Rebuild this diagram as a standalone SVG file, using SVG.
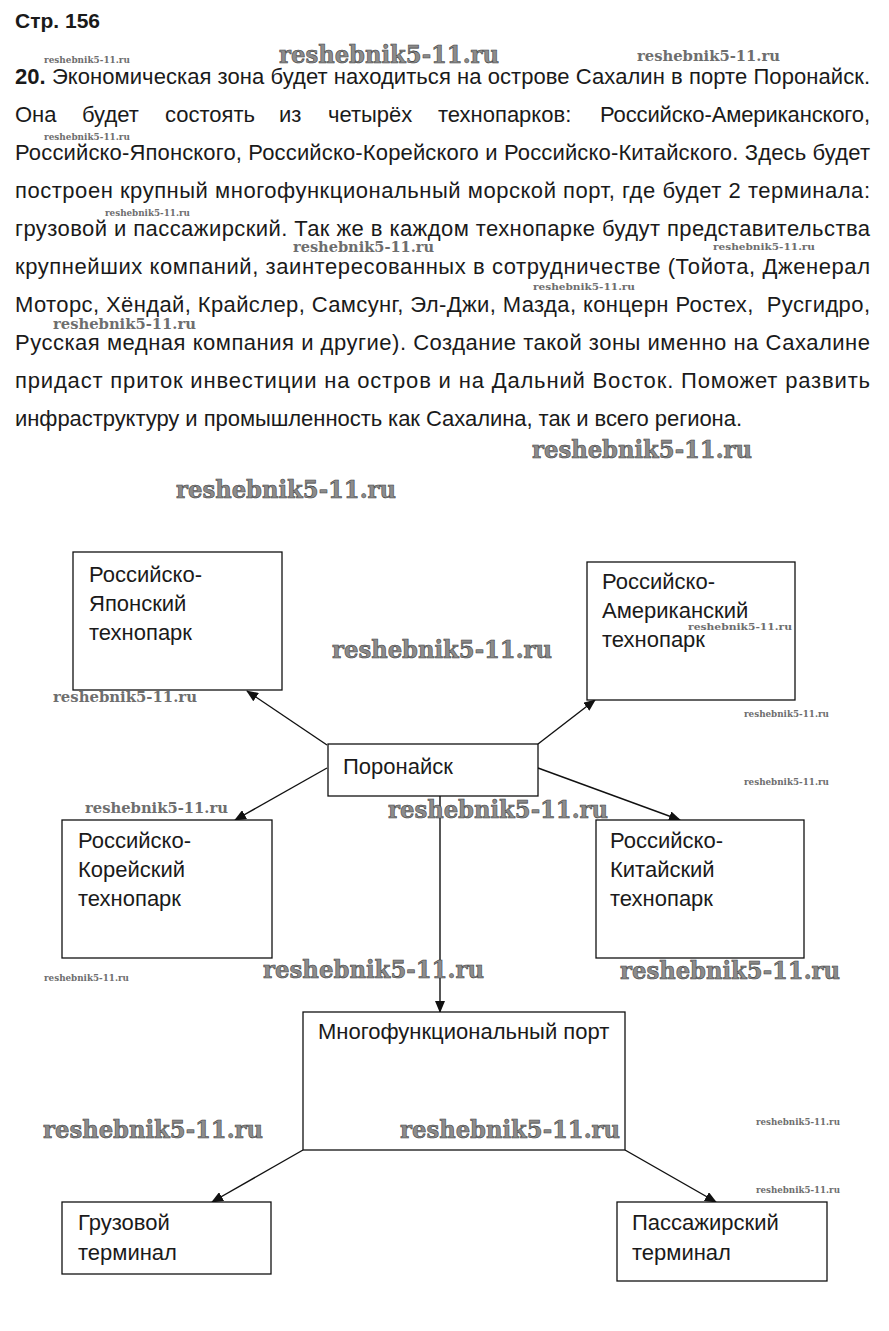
<svg xmlns="http://www.w3.org/2000/svg" width="889" height="1331" viewBox="0 0 889 1331">
<style>
.p{font-family:"Liberation Sans",Arial,sans-serif;font-size:22px;fill:#1a1a1a}
.t{font-family:"Liberation Sans",Arial,sans-serif;font-size:22px;fill:#1a1a1a}
.box{fill:#fff;stroke:#111;stroke-width:1.3}
.c{stroke:#111;stroke-width:1.4;fill:none;marker-end:url(#ah)}
.wl{font-family:"DejaVu Serif","Liberation Serif",serif;font-weight:bold;font-size:25px;fill:#8c8c8c;stroke:#3a3a3a;stroke-width:0.6}
.wm{font-family:"DejaVu Serif","Liberation Serif",serif;font-weight:bold;font-size:14px;fill:#6e6e6e}
.ws{font-family:"DejaVu Serif","Liberation Serif",serif;font-weight:bold;font-size:9px;fill:#6e6e6e}
</style>
<defs>
<marker id="ah" markerWidth="12" markerHeight="10" refX="11" refY="5" orient="auto" markerUnits="userSpaceOnUse"><path d="M0,0 L12,5 L0,10 z" fill="#111"/></marker>
</defs>
<rect width="889" height="1331" fill="#fff"/>

<g id="text">
<text x="15" y="28" font-family="Liberation Sans,Arial,sans-serif" font-weight="bold" font-size="21" fill="#1a1a1a">Стр. 156</text>
<text class="p" x="15" y="84" textLength="855" lengthAdjust="spacing"><tspan font-weight="bold">20.</tspan> Экономическая зона будет находиться на острове Сахалин в порте Поронайск.</text>
<text class="p" y="122"><tspan x="15">Она</tspan><tspan x="82">будет</tspan><tspan x="165">состоять</tspan><tspan x="279">из</tspan><tspan x="328">четырёх</tspan><tspan x="438">технопарков:</tspan><tspan x="600" textLength="270" lengthAdjust="spacing">Российско-Американского,</tspan></text>
<text class="p" x="15" y="160" textLength="855" lengthAdjust="spacing">Российско-Японского, Российско-Корейского и Российско-Китайского. Здесь будет</text>
<text class="p" x="15" y="198" textLength="855" lengthAdjust="spacing">построен крупный многофункциональный морской порт, где будет 2 терминала:</text>
<text class="p" x="15" y="236" textLength="855" lengthAdjust="spacing">грузовой и пассажирский. Так же в каждом технопарке будут представительства</text>
<text class="p" x="15" y="274" textLength="855" lengthAdjust="spacing">крупнейших компаний, заинтересованных в сотрудничестве (Тойота, Дженерал</text>
<text class="p" x="15" y="312" textLength="855" lengthAdjust="spacing" style="white-space:pre">Моторс, Хёндай, Крайслер, Самсунг, Эл-Джи, Мазда, концерн Ростех,  Русгидро,</text>
<text class="p" x="15" y="350" textLength="855" lengthAdjust="spacing">Русская медная компания и другие). Создание такой зоны именно на Сахалине</text>
<text class="p" x="15" y="388" textLength="855" lengthAdjust="spacing">придаст приток инвестиции на остров и на Дальний Восток. Поможет развить</text>
<text class="p" x="15" y="426" textLength="727" lengthAdjust="spacing">инфраструктуру и промышленность как Сахалина, так и всего региона.</text>
</g>

<g id="connectors">
<line class="c" x1="327" y1="745" x2="247" y2="691"/>
<line class="c" x1="327" y1="768" x2="235" y2="820"/>
<line class="c" x1="538" y1="744" x2="595" y2="700"/>
<line class="c" x1="538" y1="768" x2="680" y2="820"/>
<line class="c" x1="440" y1="796" x2="440" y2="1012"/>
<line class="c" x1="303" y1="1150" x2="212" y2="1202"/>
<line class="c" x1="625" y1="1150" x2="716" y2="1202"/>
</g>

<g id="n-japan">
<rect class="box" x="73" y="552" width="209" height="138"/>
<text class="t" x="89" y="582">Российско-</text>
<text class="t" x="89" y="611">Японский</text>
<text class="t" x="89" y="640">технопарк</text>
</g>
<g id="n-america">
<rect class="box" x="587" y="562" width="208" height="138"/>
<text class="t" x="602" y="589">Российско-</text>
<text class="t" x="602" y="618">Американский</text>
<text class="t" x="602" y="647">технопарк</text>
</g>
<g id="n-poronaysk">
<rect class="box" x="328" y="744" width="210" height="52"/>
<text class="t" x="343" y="774">Поронайск</text>
</g>
<g id="n-korea">
<rect class="box" x="62" y="820" width="210" height="138"/>
<text class="t" x="78" y="848">Российско-</text>
<text class="t" x="78" y="877">Корейский</text>
<text class="t" x="78" y="906">технопарк</text>
</g>
<g id="n-china">
<rect class="box" x="596" y="820" width="208" height="138"/>
<text class="t" x="610" y="848">Российско-</text>
<text class="t" x="610" y="877">Китайский</text>
<text class="t" x="610" y="906">технопарк</text>
</g>
<g id="n-port">
<rect class="box" x="303" y="1012" width="322" height="138"/>
<text class="t" x="318" y="1039">Многофункциональный порт</text>
</g>
<g id="n-cargo">
<rect class="box" x="62" y="1202" width="209" height="72"/>
<text class="t" x="78" y="1230">Грузовой</text>
<text class="t" x="78" y="1260">терминал</text>
</g>
<g id="n-passenger">
<rect class="box" x="617" y="1202" width="210" height="79"/>
<text class="t" x="632" y="1230">Пассажирский</text>
<text class="t" x="632" y="1260">терминал</text>
</g>

<g id="watermarks">
<text class="wl" x="279" y="63" textLength="220" lengthAdjust="spacingAndGlyphs">reshebnik5-11.ru</text>
<text class="wl" x="532" y="458" textLength="220" lengthAdjust="spacingAndGlyphs">reshebnik5-11.ru</text>
<text class="wl" x="176" y="498" textLength="220" lengthAdjust="spacingAndGlyphs">reshebnik5-11.ru</text>
<text class="wl" x="332" y="658" textLength="220" lengthAdjust="spacingAndGlyphs">reshebnik5-11.ru</text>
<text class="wl" x="388" y="818" textLength="220" lengthAdjust="spacingAndGlyphs">reshebnik5-11.ru</text>
<text class="wl" x="263" y="978" textLength="221" lengthAdjust="spacingAndGlyphs">reshebnik5-11.ru</text>
<text class="wl" x="620" y="979" textLength="220" lengthAdjust="spacingAndGlyphs">reshebnik5-11.ru</text>
<text class="wl" x="43" y="1138" textLength="220" lengthAdjust="spacingAndGlyphs">reshebnik5-11.ru</text>
<text class="wl" x="400" y="1138" textLength="220" lengthAdjust="spacingAndGlyphs">reshebnik5-11.ru</text>
<text class="wm" x="637" y="61" textLength="143" lengthAdjust="spacingAndGlyphs">reshebnik5-11.ru</text>
<text class="wm" x="293" y="252" textLength="141" lengthAdjust="spacingAndGlyphs">reshebnik5-11.ru</text>
<text class="wm" x="53" y="329" textLength="143" lengthAdjust="spacingAndGlyphs">reshebnik5-11.ru</text>
<text class="wm" x="53" y="702" textLength="144" lengthAdjust="spacingAndGlyphs">reshebnik5-11.ru</text>
<text class="wm" x="85" y="813" textLength="143" lengthAdjust="spacingAndGlyphs">reshebnik5-11.ru</text>
<text class="ws" x="44" y="63" textLength="86" lengthAdjust="spacingAndGlyphs">reshebnik5-11.ru</text>
<text class="ws" x="44" y="140" textLength="86" lengthAdjust="spacingAndGlyphs">reshebnik5-11.ru</text>
<text class="ws" x="105" y="216" textLength="85" lengthAdjust="spacingAndGlyphs">reshebnik5-11.ru</text>
<text class="ws" x="713" y="250" textLength="102" lengthAdjust="spacingAndGlyphs">reshebnik5-11.ru</text>
<text class="ws" x="533" y="290" textLength="102" lengthAdjust="spacingAndGlyphs">reshebnik5-11.ru</text>
<text class="ws" x="688" y="630" textLength="104" lengthAdjust="spacingAndGlyphs">reshebnik5-11.ru</text>
<text class="ws" x="744" y="717" textLength="85" lengthAdjust="spacingAndGlyphs">reshebnik5-11.ru</text>
<text class="ws" x="744" y="785" textLength="85" lengthAdjust="spacingAndGlyphs">reshebnik5-11.ru</text>
<text class="ws" x="44" y="981" textLength="85" lengthAdjust="spacingAndGlyphs">reshebnik5-11.ru</text>
<text class="ws" x="756" y="1125" textLength="84" lengthAdjust="spacingAndGlyphs">reshebnik5-11.ru</text>
<text class="ws" x="756" y="1193" textLength="84" lengthAdjust="spacingAndGlyphs">reshebnik5-11.ru</text>
</g>
</svg>
